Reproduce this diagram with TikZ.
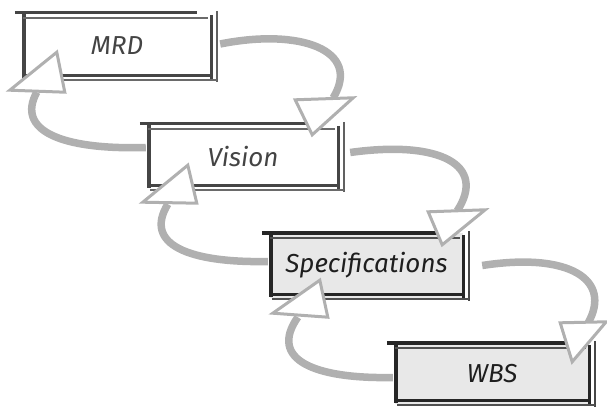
\documentclass[tikz,border=0pt]{standalone}
\usepackage{fontspec}
\setmainfont{Fira Sans}
\usetikzlibrary{calc}
\definecolor{arrowgray}{HTML}{B0B0B0}
\definecolor{edgegray}{HTML}{454545}
\definecolor{edgedark}{HTML}{262626}
\definecolor{textgray}{HTML}{444444}
\definecolor{textdark}{HTML}{1E1E1E}
\definecolor{boxfill}{HTML}{E8E8E8}
\newcommand\sketchedges[2]{%
  \draw[#2,line width=4.2pt] ($(#1.north west)+(1,0)$) -- ($(#1.south west)+(1,-1)$);
  \draw[#2,line width=3.4pt] ($(#1.north west)+(-8,0)$) -- ($(#1.north east)+(-14,0)$);
  \draw[#2!80,line width=2.2pt] ($(#1.north west)+(0,5)$) -- ($(#1.north east)+(-3,5)$);
  \draw[#2,line width=3pt] ($(#1.north east)+(0,2)$) -- ($(#1.south east)+(0,0)$);
  \draw[#2!85,line width=2.2pt] ($(#1.north east)+(6,-2)$) -- ($(#1.south east)+(6,3)$);
  \draw[#2,line width=3pt] ($(#1.south west)+(0,-4)$) -- ($(#1.south east)+(0,-4)$);
  \draw[#2!80,line width=2.2pt] ($(#1.south west)+(2,1)$) -- ($(#1.south east)+(6,1)$);
}
\begin{document}
\begin{tikzpicture}[x=1pt,y=-1pt,
  box/.style={fill=white,inner sep=0pt,text=textgray,
    font=\fontsize{26}{30}\selectfont\itshape},
  graybox/.style={box,fill=boxfill,text=textdark},
  shaft/.style={draw=arrowgray,line width=7.5pt},
  head/.style={draw=arrowgray,fill=white,line width=3pt,line join=miter}]
\useasboundingbox (0,0) rectangle (607,414);
\node[box,minimum width=188pt,minimum height=66pt] (mrd) at (117,46) {MRD};
\node[box,minimum width=190pt,minimum height=65pt] (vision) at (243,156.5) {Vision};
\node[graybox,minimum width=193pt,minimum height=65pt] (spec) at (366.5,265.5) {Specifications};
\node[graybox,minimum width=194pt,minimum height=61pt] (wbs) at (492,373.5) {WBS};
\sketchedges{mrd}{edgegray}
\sketchedges{vision}{edgegray}
\sketchedges{spec}{edgedark}
\sketchedges{wbs}{edgedark}
% arrowhead tips, placed on the target boxes
\coordinate (f1) at ($(vision.north east)+(-26,11)$);
\coordinate (f2) at ($(spec.north east)+(-21,12)$);
\coordinate (f3) at ($(wbs.north east)+(-17,19)$);
\coordinate (b1) at ($(mrd.south west)+(34,-27)$);
\coordinate (b2) at ($(vision.south west)+(40,-24)$);
\coordinate (b3) at ($(spec.south west)+(50,-18)$);
% forward arrows (shaft, then head)
\draw[shaft] ($(mrd.east)+(9,-2)$) .. controls (300,28) and (362,50) .. ($(f1)+(21,-37)$);
\draw[head] ($(f1)+(-17,-35)$) -- ($(f1)+(41,-37)$) -- (f1) -- cycle;
\draw[shaft] ($(vision.east)+(12,-4)$) .. controls (440,140) and (487,165) .. ($(f2)+(15,-34)$);
\draw[head] ($(f2)+(-14,-33)$) -- ($(f2)+(43,-35)$) -- (f2) -- cycle;
\draw[shaft] ($(spec.east)+(19,0)$) .. controls (570,252) and (612,280) .. ($(f3)+(16,-39)$);
\draw[head] ($(f3)+(-12,-39)$) -- ($(f3)+(34,-40)$) -- (f3) -- cycle;
% backward arrows
\draw[shaft] ($(vision.west)+(-2,-9)$) .. controls (60,150) and (16,130) .. ($(b1)+(-20,40)$);
\draw[head] ($(b1)+(-47,38)$) -- ($(b1)+(8,40)$) -- (b1) -- cycle;
\draw[shaft] ($(spec.west)+(-2,-4)$) .. controls (190,263) and (143,245) .. ($(b2)+(-20,39)$);
\draw[head] ($(b2)+(-45,37)$) -- ($(b2)+(9,38)$) -- (b2) -- cycle;
\draw[shaft] ($(wbs.west)+(-2,4)$) .. controls (315,379) and (268,360) .. ($(b3)+(-22,37)$);
\draw[head] ($(b3)+(-47,33)$) -- ($(b3)+(8,37)$) -- (b3) -- cycle;
\end{tikzpicture}
\end{document}
